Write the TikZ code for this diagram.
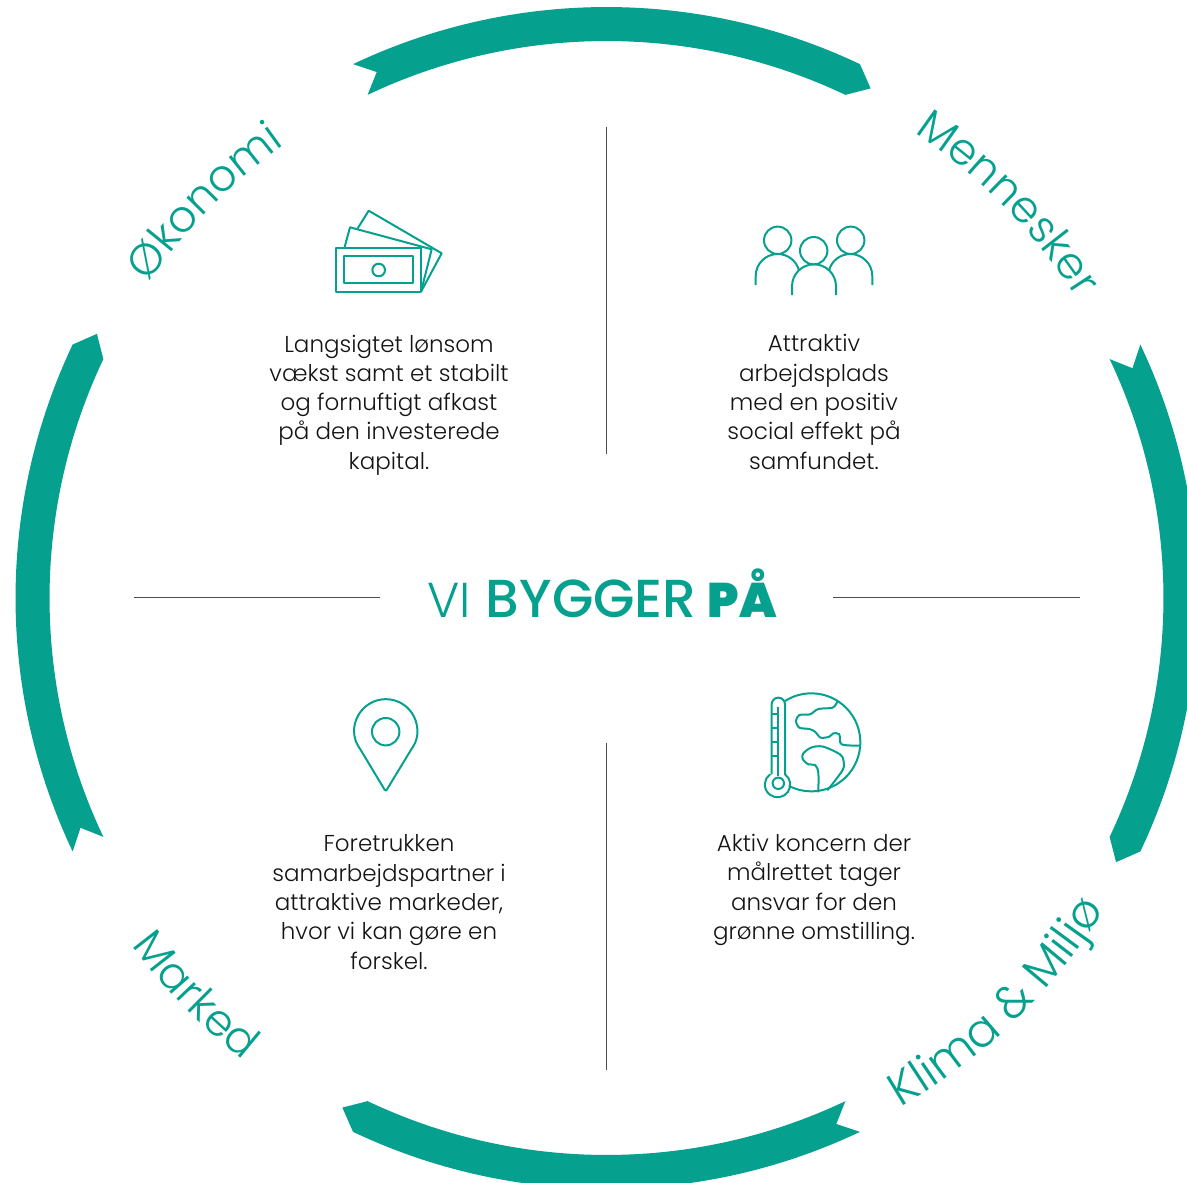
\documentclass[tikz,border=0pt]{standalone}
\usepackage{fontspec}
\usetikzlibrary{decorations.text}
\setmainfont{Poppins Light}
\newfontfamily\titlelight{Poppins Light}
\newfontfamily\titlemedium{Poppins Medium}
\newfontfamily\titleblack{Poppins Black}
\definecolor{ringteal}{HTML}{05A08E}
\definecolor{ink}{HTML}{141414}
\newcommand{\ringfont}{\fontsize{44}{44}\selectfont\color{ringteal}}
\newcommand{\ringfontbig}{\fontsize{46.5}{46.5}\selectfont\color{ringteal}}
\tikzset{
  band/.style={fill=ringteal,draw=none},
  icon/.style={draw=ringteal,line width=2pt,line join=round,fill=none},
  divider/.style={draw=ink!75,line width=0.8pt},
  body/.style={text=ink,align=center,font=\fontsize{23}{29.3}\selectfont}
}
\begin{document}
\begin{tikzpicture}[x=1pt,y=-1pt]
  \useasboundingbox (0,0) rectangle (1187,1183);

  % ring
  \foreach \turn in {0,-90,-180,-270}{
    \begin{scope}[shift={(606.5,598)},rotate=\turn]
      \fill[band] (115.4:591pt) arc[start angle=115.4,end angle=64.6,radius=591pt]
        -- (62.6:574pt) -- (64.6:557pt)
        arc[start angle=64.6,end angle=115.4,radius=557pt]
        -- (113.6:574pt) -- cycle;
    \end{scope}
  }

  % ring labels
  \begin{scope}[shift={(606.5,598)}]
    \path[decorate,decoration={text along path,text align=center,text={|\ringfont|Økonomi}}]
      (155.4:556pt) arc[start angle=155.4,end angle=115.4,radius=556pt];
    \path[decorate,decoration={text along path,text align=center,text={|\ringfont|Mennesker}}]
      (64:558pt) arc[start angle=64,end angle=25,radius=558pt];
    \path[decorate,decoration={text along path,text align=center,text={|\ringfontbig|Klima {\&} Miljø}}]
      (-71:588pt) arc[start angle=-71,end angle=-21,radius=588pt];
    \path[decorate,decoration={text along path,text align=center,text={|\ringfont|Marked}}]
      (-156:588pt) arc[start angle=-156,end angle=-116,radius=588pt];
  \end{scope}

  % dividers
  \draw[divider] (606.5,127) -- (606.5,454);
  \draw[divider] (606.5,743) -- (606.5,1070);
  \draw[divider] (134,597.5) -- (380,597.5);
  \draw[divider] (833,597.5) -- (1080,597.5);

  % title
  \node (title) at (602,617) [anchor=base,text=ringteal,font=\fontsize{54}{54}\selectfont]
    {{\titlelight\fontsize{49}{49}\selectfont VI}\hspace{15pt}{\titlemedium\fontsize{53.5}{54}\selectfont BYGGER}\hspace{11pt}{\titleblack\fontsize{48.5}{49}\selectfont PÅ}};

  % texts
  \node (okonomi) at (389,405) [body] {Langsigtet lønsom\\vækst samt et stabilt\\og fornuftigt afkast\\på den investerede\\kapital.};
  \node (mennesker) at (814,402) [body] {Attraktiv\\arbejdsplads\\med en positiv\\social effekt på\\samfundet.};
  \node (marked) at (389,902) [body] {Foretrukken\\samarbejdspartner i\\attraktive markeder,\\hvor vi kan gøre en\\forskel.};
  \node (klima) at (814,890) [body] {Aktiv koncern der\\målrettet tager\\ansvar for den\\grønne omstilling.};

  % money
  \draw[icon] (335.7,248.3) rectangle (421,291.7);
  \draw[icon] (344.3,256) rectangle (412.7,283.3);
  \draw[icon] (378.7,270) circle[radius=6.3pt];
  \draw[icon] (344.3,248.3) -- (350,227.3) -- (431.7,249.3) -- (421,291.7);
  \draw[icon] (357.7,228.3) -- (368.7,210.7) -- (441.7,253.3) -- (421,291.7);

  % people
  \draw[icon] (777.7,240.3) circle[radius=13.7pt];
  \draw[icon] (813.7,250.7) circle[radius=13.7pt];
  \draw[icon] (850.7,240.3) circle[radius=13.7pt];
  \draw[icon] (755.7,285) -- (755.7,276) arc[start angle=180,end angle=15,radius=22pt];
  \draw[icon] (792,295) -- (792,286.3) arc[start angle=180,end angle=0,radius=22pt] -- (836,295);
  \draw[icon] (872.3,285) -- (872.3,276) arc[start angle=0,end angle=165,radius=22pt];

  % pin
  \draw[icon] (385.7,731.7) circle[radius=13.7pt];
  \draw[icon,rounded corners=2pt] (359.7,748.3) arc[start angle=214,end angle=-34,radius=31.5pt] -- (385.7,791.5) -- cycle;

  % globe
  \draw[icon] (785,701) arc[start angle=122.5,end angle=-117.3,radius=49pt];
  \draw[icon] (771.7,774.3) -- (771.7,704.3) arc[start angle=180,end angle=0,radius=6.65pt] -- (785,774.3)
    arc[start angle=54,end angle=-234,radius=12.7pt];
  \draw[icon] (778.3,783.3) circle[radius=5.7pt];
  \draw[icon] (778.3,707) -- (778.3,776);
  \foreach \tick in {714.3,727.7,741.7,756}
    \draw[icon] (771.7,\tick) -- (778.3,\tick);
  \begin{scope}[shift={(750,685)},x=0.3333pt,y=-0.3333pt]
    \draw[icon] plot[smooth,tension=0.5] coordinates {(262,50) (248,68) (205,72) (180,88) (148,90) (138,108) (148,128) (178,132) (195,140) (212,158) (238,155) (250,145) (268,148) (275,178) (333,182)};
    \draw[icon] plot[smooth,tension=0.5] coordinates {(205,322) (205,262) (195,240) (175,238) (158,222) (160,205) (185,187) (220,185) (270,208) (280,225) (278,255) (232,316)};
  \end{scope}
\end{tikzpicture}
\end{document}
